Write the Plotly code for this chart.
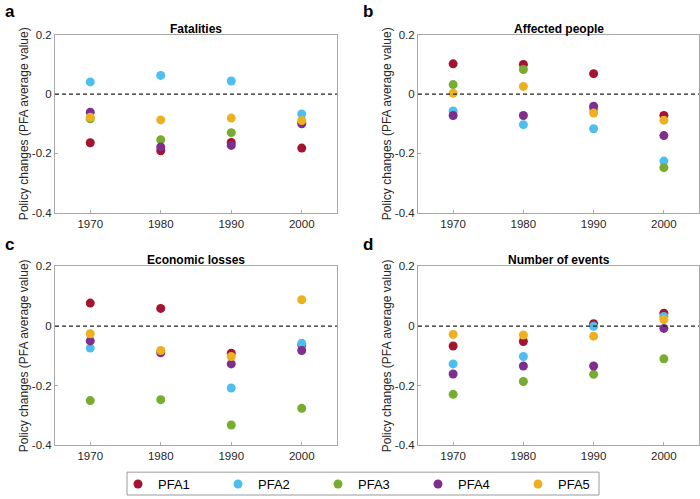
import plotly.graph_objects as go

years = [1970, 1980, 1990, 2000]
series_names = ["PFA1", "PFA2", "PFA3", "PFA4", "PFA5"]
colors = ["#A2142F", "#4DBEEE", "#77AC30", "#7E2F8E", "#EDB120"]
panel_titles = ["Fatalities", "Affected people", "Economic losses", "Number of events"]
panel_letters = ["a", "b", "c", "d"]

fatalities = {
    "PFA1": [-0.164, -0.191, -0.163, -0.182],
    "PFA2": [0.041, 0.063, 0.044, -0.067],
    "PFA3": [-0.083, -0.154, -0.130, -0.095],
    "PFA4": [-0.061, -0.178, -0.173, -0.100],
    "PFA5": [-0.078, -0.087, -0.081, -0.089],
}
affected_people = {
    "PFA1": [0.102, 0.100, 0.069, -0.072],
    "PFA2": [-0.057, -0.103, -0.117, -0.226],
    "PFA3": [0.032, 0.083, -0.050, -0.248],
    "PFA4": [-0.072, -0.072, -0.041, -0.140],
    "PFA5": [0.003, 0.026, -0.064, -0.088],
}
economic_losses = {
    "PFA1": [0.077, 0.059, -0.091, -0.063],
    "PFA2": [-0.074, -0.085, -0.208, -0.058],
    "PFA3": [-0.250, -0.247, -0.332, -0.276],
    "PFA4": [-0.050, -0.090, -0.127, -0.082],
    "PFA5": [-0.026, -0.082, -0.102, 0.088],
}
number_of_events = {
    "PFA1": [-0.067, -0.052, 0.008, 0.043],
    "PFA2": [-0.127, -0.102, -0.001, 0.032],
    "PFA3": [-0.229, -0.186, -0.162, -0.110],
    "PFA4": [-0.161, -0.134, -0.134, -0.008],
    "PFA5": [-0.028, -0.030, -0.034, 0.022],
}
panels = [fatalities, affected_people, economic_losses, number_of_events]

y_ticks = [-0.4, -0.2, 0, 0.2]
y_ticktext = ["-0.4", "-0.2", "0", "0.2"]

W, H = 700, 499
# pixel boxes (left, right, top, bottom)
boxes = [(55, 337, 35, 214), (418, 699, 35, 214), (55, 337, 268, 448), (418, 699, 268, 448)]

fig = go.Figure()
FONT = "Liberation Sans, Arial, sans-serif"
TXT = "#262626"
AX = "#A8A8A8"

layout = {}
for i, (data, box) in enumerate(zip(panels, boxes)):
    l, r, t, b = box
    xa = "xaxis" if i == 0 else f"xaxis{i+1}"
    ya = "yaxis" if i == 0 else f"yaxis{i+1}"
    xr = "x" if i == 0 else f"x{i+1}"
    yr = "y" if i == 0 else f"y{i+1}"
    for name, col in zip(series_names, colors):
        fig.add_trace(go.Scatter(
            x=years, y=data[name], mode="markers", name=name,
            marker=dict(color=col, size=9, line=dict(width=0)),
            xaxis=xr, yaxis=yr, showlegend=(i == 0), legendgroup=name,
        ))
    layout[xa] = dict(
        domain=[l / W, r / W], anchor=yr, range=[1965, 2005], automargin=False,
        tickvals=years, ticks="inside", ticklen=3, tickcolor=AX,
        showline=True, mirror=True, linecolor=AX, linewidth=1,
        showgrid=False, zeroline=False,
        tickfont=dict(family=FONT, size=11.5, color=TXT),
    )
    layout[ya] = dict(
        domain=[1 - b / H, 1 - t / H], anchor=xr, range=[-0.4, 0.2], automargin=False,
        tickvals=y_ticks, ticktext=y_ticktext, ticks="inside", ticklen=3, tickcolor=AX,
        showline=True, mirror=True, linecolor=AX, linewidth=1,
        showgrid=False, zeroline=False,
        tickfont=dict(family=FONT, size=11.5, color=TXT),
        title=dict(text="Policy changes (PFA average value)", standoff=0,
                   font=dict(family=FONT, size=12, color=TXT)),
    )
    fig.add_shape(type="line", xref=f"{xr} domain", yref=yr, x0=0, x1=1, y0=0, y1=0,
                  line=dict(color="#222222", width=1.3, dash="4px,3px"))
    fig.add_annotation(text=f"<b>{panel_titles[i]}</b>", xref="paper", yref="paper",
                       x=(l + r) / 2 / W, y=1 - (t + 3) / H, xanchor="center", yanchor="bottom",
                       showarrow=False, font=dict(family=FONT, size=12, color="#000000"))
    lx = 3 if i % 2 == 0 else 361
    ly = 0 if i < 2 else 234
    fig.add_annotation(text=f"<b>{panel_letters[i]}</b>", xref="paper", yref="paper",
                       x=lx / W, y=1 - ly / H, xanchor="left", yanchor="top", showarrow=False,
                       font=dict(family=FONT, size=17, color="#000000"))

# legend frame
fig.add_shape(type="rect", xref="paper", yref="paper", x0=127 / W, x1=599 / W,
              y0=1 - 498 / H, y1=1 - 475 / H, line=dict(color="#9A9A9A", width=1),
              fillcolor="rgba(0,0,0,0)", layer="above")

fig.update_layout(
    width=W, height=H, margin=dict(l=0, r=0, t=0, b=0),
    plot_bgcolor="white", paper_bgcolor="white",
    font=dict(family=FONT, size=12, color=TXT),
    legend=dict(orientation="h", x=368 / W, xanchor="center", y=1 - 487 / H, yanchor="middle",
                borderwidth=0, entrywidth=55, itemwidth=30,
                font=dict(family=FONT, size=13, color="#000000"), bgcolor="rgba(0,0,0,0)"),
    **layout,
)

fig.write_html("out.html", config={"displayModeBar": False},
               post_script="document.body.style.margin='0';document.body.style.overflow='hidden';")
